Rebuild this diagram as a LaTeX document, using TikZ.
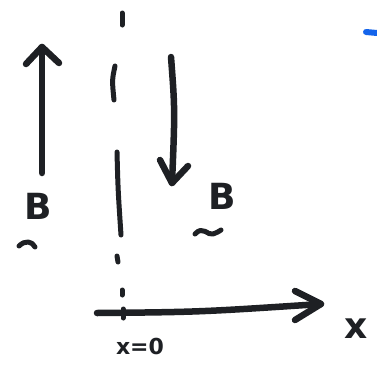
\documentclass[tikz,border=0pt]{standalone}
\usepackage{fontspec}
\setmainfont{DejaVu Sans}
\definecolor{ink}{RGB}{30,32,36}
\definecolor{blueink}{RGB}{20,100,235}
\tikzset{
  marker/.style={draw=ink, line width=6.5pt, line cap=round, line join=round},
  thinmarker/.style={draw=ink, line width=5pt, line cap=round, line join=round},
  hand/.style={font=\bfseries\fontsize{36}{36}\selectfont, text=ink, inner sep=0pt},
  handsmall/.style={font=\bfseries\fontsize{22}{22}\selectfont, text=ink, inner sep=0pt},
}
\begin{document}
\begin{tikzpicture}[x=1pt,y=-1pt]
\useasboundingbox (0,0) rectangle (377,370);
\fill[white] (0,0) rectangle (377,370);
% left upward arrow
\coordinate (upA) at (42,173);
\coordinate (upB) at (42,47);
\draw[marker] (upA) -- (upB);
\draw[marker] (26,64) -- (upB) -- (59,63);
\node[hand] (B1) at (38,206) {B};
\draw[thinmarker] (19,246) .. controls (25,240) and (32,241) .. (35,247);
% dash-dot axis x=0
\draw[thinmarker] (122,13) -- (122,25);
\draw[thinmarker] (115,66) .. controls (112,80) .. (114,100);
\draw[thinmarker] (117,152) .. controls (118,190) .. (121,235);
\draw[thinmarker] (117,256) -- (118,262);
\draw[thinmarker] (122,290) -- (122,295);
% right downward arrow
\coordinate (dnA) at (171,57);
\coordinate (dnB) at (172,183);
\draw[marker] (dnA) .. controls (175,110) .. (dnB);
\draw[marker] (160,160) -- (dnB) -- (188,166);
\node[hand] (B2) at (222,196) {B};
\draw[thinmarker] (195,234) .. controls (203,225) and (208,236) .. (213,234) .. controls (218,232) .. (221,230);
% x axis
\coordinate (xA) at (97,313);
\coordinate (xB) at (321,304);
\draw[marker] (xA) .. controls (200,312) .. (xB);
\draw[marker] (295,291) -- (xB) -- (295,320);
\draw[thinmarker] (123,309) -- (123,318);
\node[hand] (xl) at (356,329) {x};
\node[handsmall] (x0) at (140,346) {x=0};
% blue mark
\draw[draw=blueink, line width=6pt, line cap=round] (366,32) -- (377,33);
\end{tikzpicture}
\end{document}
